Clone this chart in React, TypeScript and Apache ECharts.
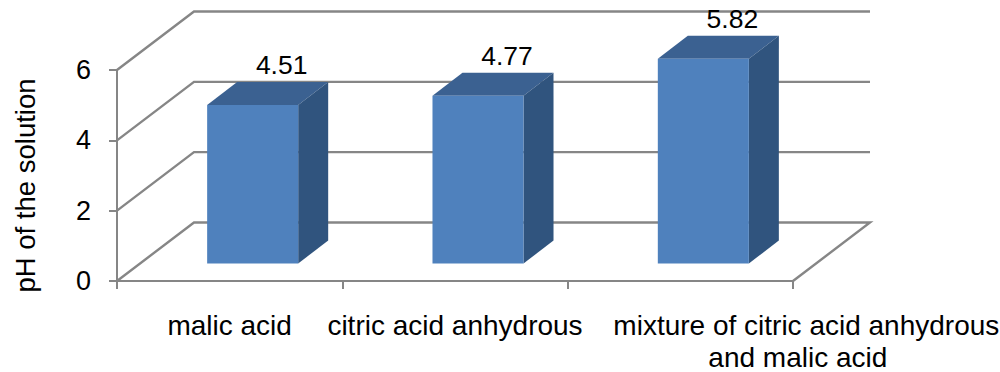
import React, { useEffect, useRef } from "react";
import * as echarts from "echarts";

const categories = ["malic acid", "citric acid anhydrous", "mixture of citric acid anhydrous\nand malic acid"];
const phValues = [4.51, 4.77, 5.82];
const yTicks = [0, 2, 4, 6];
const yTitle = "pH of the solution";

const FONT = '"Liberation Sans", Arial, sans-serif';
const GRID_COLOR = "#868686";
const WALL_DX = 77;
const WALL_DY = 58.5;
const BAR_SHIFT_X = 23;
const BAR_SHIFT_Y = 17.5;
const BAR_DEPTH_X = 30;
const BAR_DEPTH_Y = 23;
const BAR_WIDTH_RATIO = 0.404;

export default function App() {
  const ref = useRef<HTMLDivElement>(null);
  useEffect(() => {
    document.body.style.margin = "0";
    const chart = echarts.init(ref.current!, undefined, { renderer: "svg" });
    chart.setOption({
      animation: false,
      backgroundColor: "#ffffff",
      grid: { left: 117, right: 207, top: 70, height: 211, outerBoundsMode: "none" },
      xAxis: {
        type: "category",
        data: categories,
        axisLine: { lineStyle: { color: GRID_COLOR, width: 2 } },
        axisTick: { show: true, length: 8, lineStyle: { color: GRID_COLOR, width: 2 } },
        axisLabel: {
          interval: 0,
          margin: 27,
          color: "#000",
          fontFamily: FONT,
          fontSize: 28,
          lineHeight: 34,
          formatter: (v: string, i: number) => {
            if (i !== 2) return v;
            const [a, b] = v.split("\n");
            return `{a|${a}}\n{b|${b}}`;
          },
          rich: {
            a: { fontFamily: FONT, fontSize: 28, lineHeight: 34, color: "#000", padding: [0, 0, 0, 252] },
            b: { fontFamily: FONT, fontSize: 28, lineHeight: 30, color: "#000", padding: [0, 0, 0, 235] },
          },
        },
      },
      yAxis: {
        type: "value",
        min: 0,
        max: 6,
        interval: 2,
        name: yTitle,
        nameLocation: "middle",
        nameGap: 78,
        nameRotate: 90,
        nameTextStyle: { fontFamily: FONT, fontSize: 27.5, color: "#000", padding: [0, 20, 0, 0] },
        axisLine: { show: true, lineStyle: { color: GRID_COLOR, width: 2 } },
        axisTick: { show: true, length: 8, lineStyle: { color: GRID_COLOR, width: 2 } },
        axisLabel: { margin: 26, color: "#000", fontFamily: FONT, fontSize: 27 },
        splitLine: { show: false },
      },
      series: [
        {
          type: "custom",
          name: "walls",
          z: 1,
          silent: true,
          data: yTicks.map((t) => [0, t]),
          renderItem: (params: any, api: any) => {
            const cs = params.coordSys;
            const y = api.coord([0, api.value(1)])[1];
            const x0 = cs.x;
            const x1 = cs.x + cs.width;
            const pts: number[][] = [
              [x0, y],
              [x0 + WALL_DX, y - WALL_DY],
              [x1 + WALL_DX, y - WALL_DY],
            ];
            if (api.value(1) === 0) pts.push([x1, y]);
            return {
              type: "polyline",
              shape: { points: pts },
              style: { stroke: GRID_COLOR, lineWidth: 2.4, fill: "none" },
            };
          },
        },
        {
          type: "custom",
          name: "pH",
          z: 2,
          silent: true,
          data: phValues.map((v, i) => [i, v]),
          renderItem: (_params: any, api: any) => {
            const i = api.value(0);
            const v = api.value(1);
            const [cx, top0] = api.coord([i, v]);
            const base0 = api.coord([i, 0])[1];
            const w = api.size([1, 0])[0] * BAR_WIDTH_RATIO;
            const l = cx + BAR_SHIFT_X - w / 2;
            const r = l + w;
            const top = top0 - BAR_SHIFT_Y;
            const base = base0 - BAR_SHIFT_Y;
            const dx = BAR_DEPTH_X;
            const dy = BAR_DEPTH_Y;
            return {
              type: "group",
              children: [
                {
                  type: "polygon",
                  shape: { points: [[l, top], [r, top], [r + dx, top - dy], [l + dx, top - dy]] },
                  style: { fill: "#3b6191" },
                },
                {
                  type: "polygon",
                  shape: { points: [[r, top], [r + dx, top - dy], [r + dx, base - dy], [r, base]] },
                  style: { fill: "#30547e" },
                },
                {
                  type: "rect",
                  shape: { x: l, y: top, width: w, height: base - top },
                  style: { fill: "#4f81bd" },
                },
                {
                  type: "text",
                  x: cx + BAR_SHIFT_X + 29,
                  y: top - 40,
                  style: {
                    text: v.toFixed(2),
                    fontFamily: FONT,
                    fontSize: 26.5,
                    fill: "#000",
                    align: "center",
                    verticalAlign: "middle",
                  },
                },
              ],
            };
          },
        },
      ],
    });
    return () => chart.dispose();
  }, []);
  return <div ref={ref} style={{ width: 1000, height: 372 }} />;
}
